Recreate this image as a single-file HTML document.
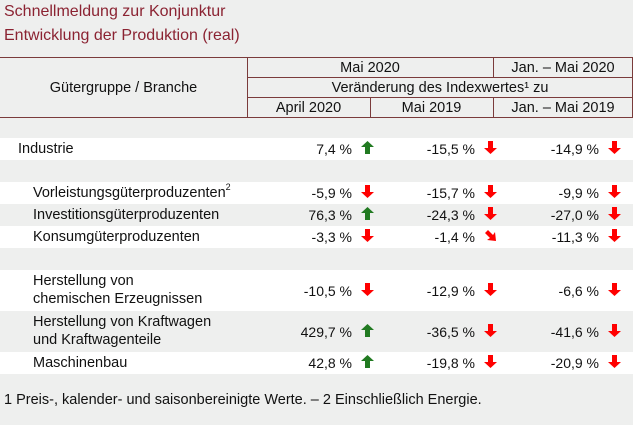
<!DOCTYPE html>
<html><head><meta charset="utf-8">
<style>
body{margin:0;width:633px;height:425px;background:#eeefee;font-family:"Liberation Sans",sans-serif;color:#111;position:relative;overflow:hidden}
.abs{position:absolute}
.t{color:#8b2332;font-size:16px;left:4px}
.hl{position:absolute;background:#7a3b3b}
.hd{position:absolute;font-size:14.5px;text-align:center;line-height:20px}
.row{position:absolute;left:0;width:633px}
.lab{position:absolute;font-size:14.5px;line-height:18px;white-space:nowrap}
.lab sup{font-size:9px;vertical-align:top;line-height:10px;position:relative;top:-2px}
.val{position:absolute;font-size:14px;text-align:right;width:100px;line-height:16px}
</style></head><body>
<div class="abs t" style="top:3px">Schnellmeldung zur Konjunktur</div>
<div class="abs t" style="top:27px">Entwicklung der Produktion (real)</div>
<div>
<div class="hl" style="left:0;top:57px;width:633px;height:1px"></div>
<div class="hl" style="left:247px;top:77px;width:386px;height:1px"></div>
<div class="hl" style="left:247px;top:97px;width:386px;height:1px"></div>
<div class="hl" style="left:0;top:117px;width:633px;height:1px"></div>
<div class="hl" style="left:247px;top:57px;width:1px;height:61px"></div>
<div class="hl" style="left:493px;top:57px;width:1px;height:21px"></div>
<div class="hl" style="left:370px;top:97px;width:1px;height:21px"></div>
<div class="hl" style="left:493px;top:97px;width:1px;height:21px"></div>
<div class="hl" style="left:632px;top:57px;width:1px;height:61px"></div>
<div class="hd" style="left:0;width:247px;top:78px">Gütergruppe / Branche</div>
<div class="hd" style="left:247px;width:246px;top:58px">Mai 2020</div>
<div class="hd" style="left:493px;width:140px;top:58px">Jan. – Mai 2020</div>
<div class="hd" style="left:247px;width:386px;top:78px">Veränderung des Indexwertes¹ zu</div>
<div class="hd" style="left:247px;width:123px;top:98px">April 2020</div>
<div class="hd" style="left:370px;width:123px;top:98px">Mai 2019</div>
<div class="hd" style="left:493px;width:140px;top:98px">Jan. – Mai 2019</div>
</div>
<div id="body"></div>
<div class="abs" style="left:4px;top:392px;font-size:14.5px">1 Preis-, kalender- und saisonbereinigte Werte. – 2 Einschließlich Energie.</div>
<script>
const labels=["Industrie","Vorleistungsgüterproduzenten<sup>2</sup>","Investitionsgüterproduzenten","Konsumgüterproduzenten","Herstellung von<br>chemischen Erzeugnissen","Herstellung von Kraftwagen<br>und Kraftwagenteile","Maschinenbau"];
const vsApril=[7.4,-5.9,76.3,-3.3,-10.5,429.7,42.8];
const vsMai2019=[-15.5,-15.7,-24.3,-1.4,-12.9,-36.5,-19.8];
const vsJanMai2019=[-14.9,-9.9,-27.0,-11.3,-6.6,-41.6,-20.9];
const layout=[[138,22,false,18],[182,22,false,33],[204,22,true,33],[226,22,false,33],[270,41,false,33],[311,41,true,33],[352,22,false,33]];
const body=document.getElementById('body');
const colRight=[352,475,599];
function arrow(v){
  if(v>=0) return "<svg width='13' height='13' viewBox='0 0 13 13'><polygon points='6.5,0 13,6 9,6 9,13 4,13 4,6 0,6' fill='#217a21'/></svg>";
  if(v>-2) return "<svg width='13' height='13' viewBox='0 0 13 13'><polygon points='1,4 4,1 9,6 11,3 12,12 3,11 6,9' fill='#f00'/></svg>";
  return "<svg width='13' height='13' viewBox='0 0 13 13'><polygon points='6.5,13 13,7 9,7 9,0 4,0 4,7 0,7' fill='#f00'/></svg>";
}
function fmt(v){return v.toFixed(1).replace('.',',')+' %';}
labels.forEach((lab,i)=>{
  const [top,h,gray,lx]=layout[i];
  const r=document.createElement('div');
  r.className='row';
  
  
  r.style.top=top+'px';r.style.height=h+'px';r.style.background=gray?'#eeefee':'#fff';
  const l=document.createElement('div');
  l.className='lab';
  
  
  l.style.left=lx+'px';l.style.top=(h>30?2:2)+'px';l.innerHTML=lab;
  r.appendChild(l);
  [vsApril[i],vsMai2019[i],vsJanMai2019[i]].forEach((v,c)=>{
    const d=document.createElement('div');
    d.className='val';
    
    
    d.style.left=(colRight[c]-100)+'px';d.style.top=(h/2-8)+'px';d.textContent=fmt(v);
    r.appendChild(d);
    const a=document.createElement('div');
    a.className='abs';
    
    
    a.style.left=(colRight[c]+9)+'px';a.style.top=(h/2-8)+'px';a.innerHTML=arrow(v);
    r.appendChild(a);
  });
  body.appendChild(r);
});
</script>
</body></html>
